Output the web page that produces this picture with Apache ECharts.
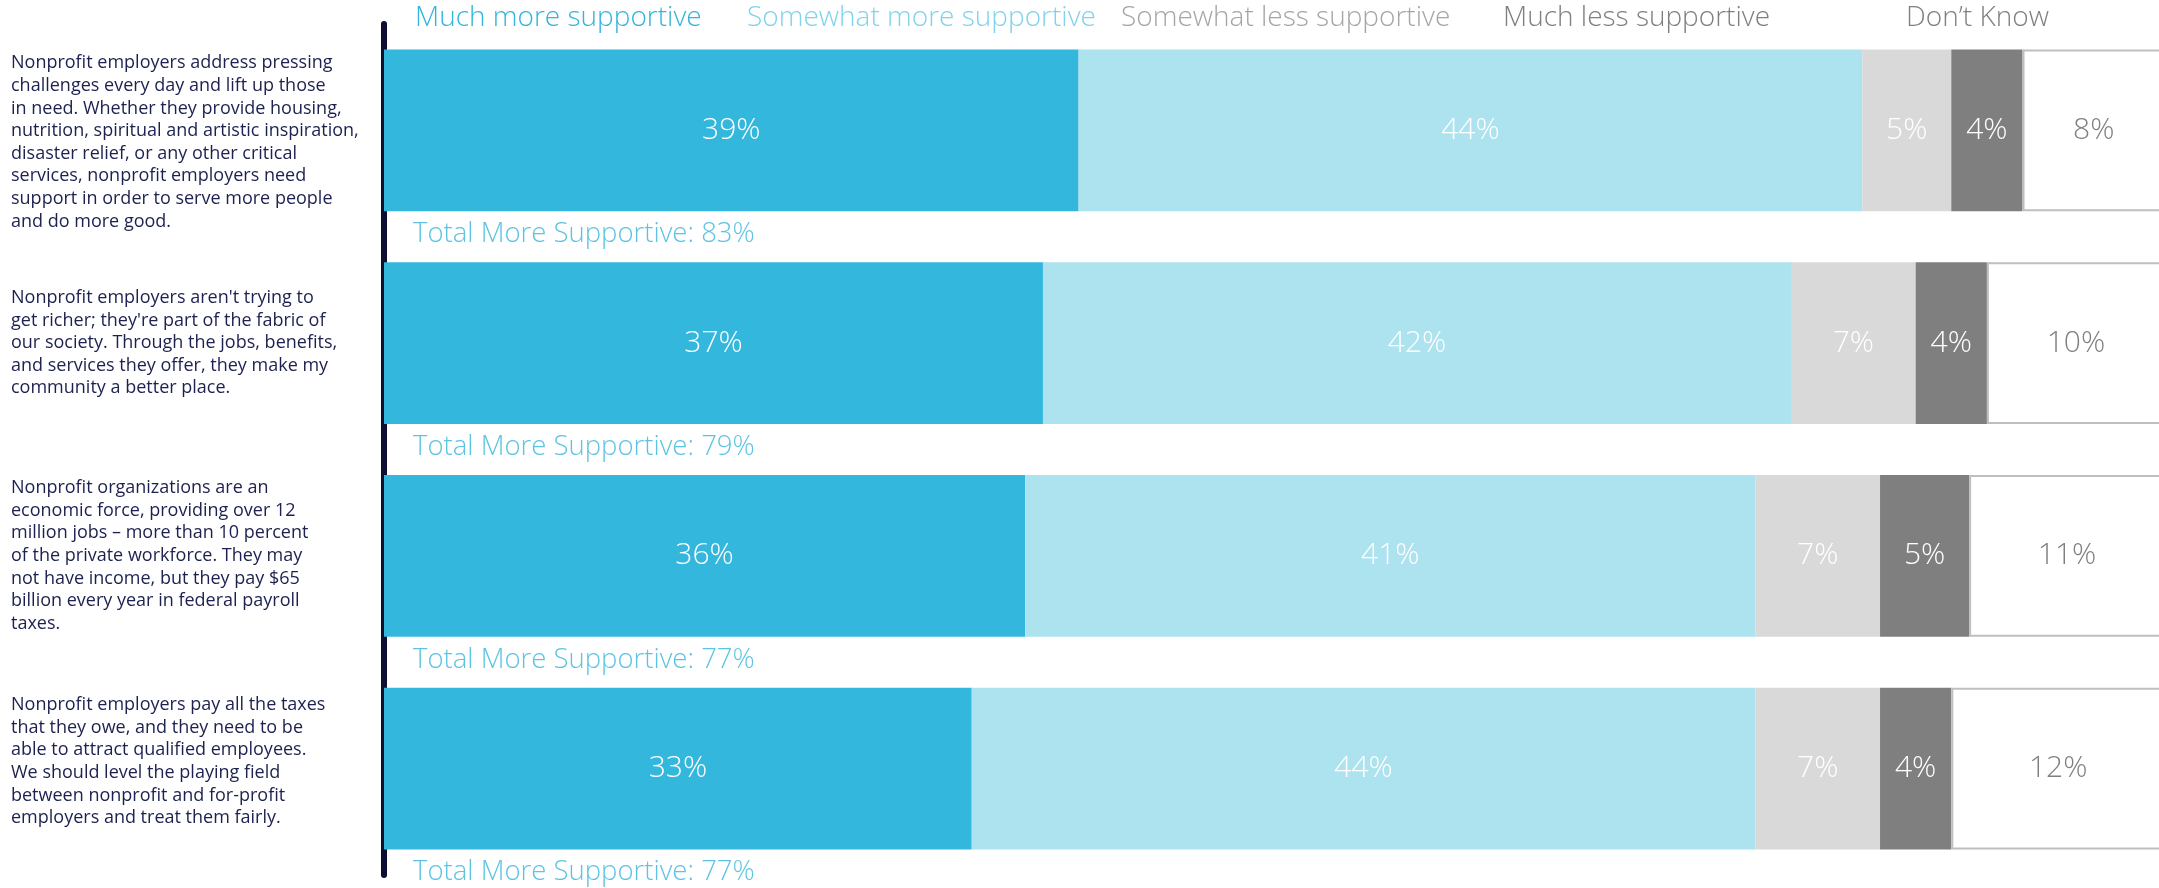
<!DOCTYPE html>
<html>
<head>
<meta charset="utf-8">
<script src="https://cdn.jsdelivr.net/npm/echarts@6/dist/echarts.min.js"></script>
<style>
  html, body { margin: 0; padding: 0; background: #ffffff; }
  #chart { width: 2159px; height: 888px; }
</style>
</head>
<body>
<div id="chart"></div>
<script>
// ---- data ----
const categories = [
  "Nonprofit employers address pressing\nchallenges every day and lift up those\nin need. Whether they provide housing,\nnutrition, spiritual and artistic inspiration,\ndisaster relief, or any other critical\nservices, nonprofit employers need\nsupport in order to serve more people\nand do more good.",
  "Nonprofit employers aren't trying to\nget richer; they're part of the fabric of\nour society. Through the jobs, benefits,\nand services they offer, they make my\ncommunity a better place.",
  "Nonprofit organizations are an\neconomic force, providing over 12\nmillion jobs \u2013 more than 10 percent\nof the private workforce. They may\nnot have income, but they pay $65\nbillion every year in federal payroll\ntaxes.",
  "Nonprofit employers pay all the taxes\nthat they owe, and they need to be\nable to attract qualified employees.\nWe should level the playing field\nbetween nonprofit and for-profit\nemployers and treat them fairly."
];
const seriesNames = ["Much more supportive", "Somewhat more supportive", "Somewhat less supportive", "Much less supportive", "Don\u2019t Know"];
const muchMore     = [39, 37, 36, 33];
const somewhatMore = [44, 42, 41, 44];
const somewhatLess = [5, 7, 7, 7];
const muchLess     = [4, 4, 5, 4];
const dontKnow     = [8, 10, 11, 12];
const totalMore    = [83, 79, 77, 77];

// ---- styles ----
const FONT = "'Open Sans', 'Lato', sans-serif";
const barColors   = ["#33b7dc", "#ade2ef", "#d9d9d9", "#7f7f7f", "#ffffff"];
const legendColors = ["#33b5db", "#80d3ec", "#a6a6a6", "#7f7f7f", "#808080"];
const labelColors = ["#ffffff", "#ffffff", "#ffffff", "#ffffff", "#7f7f7f"];
const legendLeft = [410, 742, 1116, 1498, 1901];
const values = [muchMore, somewhatMore, somewhatLess, muchLess, dontKnow];
// vertical nudges of the statement blocks (spacer line heights, px)
const padTop    = [24, 0, 0, 0];
const padBottom = [0, 0, 0, 14];

const chart = echarts.init(document.getElementById('chart'), null, { renderer: 'canvas' });

const barSeries = seriesNames.map((name, i) => ({
  name: name,
  type: 'bar',
  stack: 'total',
  barWidth: '76%',
  data: values[i],
  itemStyle: i === 4
    ? { color: barColors[i], borderColor: '#bfbfbf', borderWidth: 2 }
    : { color: barColors[i] },
  label: {
    show: true,
    position: 'inside',
    formatter: '{c}%',
    color: labelColors[i],
    fontFamily: FONT,
    fontSize: 30,
    fontWeight: 300
  },
  emphasis: { disabled: true },
  silent: true
}));

const totalSeries = {
  name: 'total',
  type: 'scatter',
  symbolSize: 0,
  data: totalMore.map((t, i) => [0, i, t]),
  label: {
    show: true,
    position: 'right',
    distance: 0,
    offset: [29, 104],
    formatter: p => 'Total More Supportive: ' + p.value[2] + '%',
    color: '#33b5db',
    fontFamily: FONT,
    fontSize: 27.5,
    fontWeight: 300
  },
  z: 5,
  silent: true
};

const legends = seriesNames.map((name, i) => ({
  data: [name],
  left: legendLeft[i],
  top: 4,
  icon: 'none',
  itemWidth: 0,
  itemHeight: 0,
  itemGap: 0,
  padding: 0,
  selectedMode: false,
  textStyle: {
    color: legendColors[i],
    fontFamily: FONT,
    fontSize: 28,
    fontWeight: 300,
    padding: 0
  }
}));

const textStyleBase = { color: '#1c2150', fontFamily: FONT, fontSize: 18, lineHeight: 22.6 };

chart.setOption({
  animation: false,
  backgroundColor: '#ffffff',
  legend: legends,
  grid: { left: 384, width: 1781, top: 24, bottom: 13, containLabel: false, outerBoundsMode: 'none' },
  xAxis: {
    type: 'value',
    min: 0,
    max: 100,
    show: false
  },
  yAxis: {
    type: 'category',
    inverse: true,
    data: categories,
    offset: 4,
    axisLine: { show: true, lineStyle: { color: '#0c0f33', width: 6 } },
    axisTick: { show: false },
    axisLabel: {
      align: 'left',
      margin: 369,
      ...textStyleBase,
      formatter: (value, index) => {
        let s = value.split('\n').map(l => '{t|' + l + '}').join('\n');
        if (padTop[index]) s = '{p' + padTop[index] + '| }\n' + s;
        if (padBottom[index]) s = s + '\n{p' + padBottom[index] + '| }';
        return s;
      },
      rich: {
        t: textStyleBase,
        p24: { fontSize: 10, lineHeight: 24 },
        p14: { fontSize: 10, lineHeight: 14 }
      }
    }
  },
  series: [...barSeries, totalSeries]
});
</script>
</body>
</html>
